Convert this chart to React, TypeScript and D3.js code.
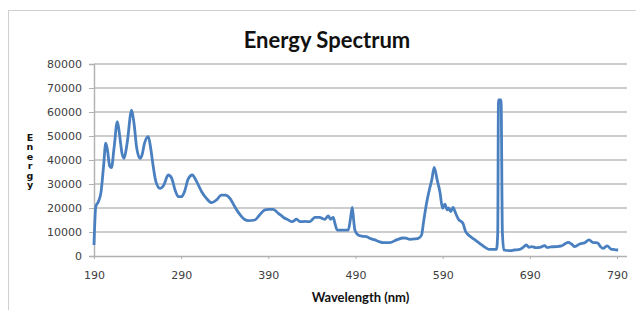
import React, { useEffect, useRef } from "react";
import * as d3 from "d3";

// wavelength (nm) and energy
const wavelengths = [
  190, 192, 195, 198, 201, 203.5, 205.5, 208, 210, 213, 216.8, 219.5, 222, 224.5, 228, 233.2, 236, 239,
  242.8, 245, 248, 252.3, 255, 258, 261, 265.7, 270, 275.2, 279, 283, 286.7, 290.5, 294, 298, 302.8, 307,
  313.5, 319, 325, 331, 336, 341, 346, 350, 355, 359.4, 363, 367, 374.6, 380, 386, 390, 395.6, 401.4, 405,
  409, 412, 416.7, 419, 422.4, 426.2, 432, 437.7, 440, 443.4, 449, 452, 455, 458.7, 461.4, 464.5, 466.5,
  469, 475, 481.7, 484, 486.3, 488, 489.3, 493, 497, 502.7, 507, 512.2, 517, 521.8, 529.4, 537, 544.7, 548,
  552.4, 558, 562, 565.8, 568, 571.5, 575, 577.5, 580.3, 583.7, 586.8, 589.9, 592.5, 595.2, 597, 599.2,
  601.8, 604.9, 608.7, 611, 613.3, 616.4, 619, 622, 626, 629.7, 634, 637.4, 643, 651.8, 653.2, 654, 657,
  658.5, 660.2, 667, 672, 678.5, 682, 684.3, 686, 689, 692, 697, 701.5, 707, 710, 714, 720.6, 726.3, 730,
  734, 737.8, 741.6, 747.3, 753, 758, 762.6, 766, 768.4, 771, 774, 778.6, 783.7, 787, 791.3,
];
const energy = [
  4600, 20500, 22600, 26500, 37500, 47000, 44000, 37500, 36800, 45000, 56000, 50000, 43000, 40700, 47000,
  60800, 55000, 45000, 40700, 42000, 47000, 49700, 45000, 37200, 31000, 28200, 29500, 33750, 32500, 27500,
  24700, 24700, 27000, 32000, 33750, 31500, 26800, 24000, 22200, 23500, 25400, 25400, 24000, 21500, 18500,
  16400, 15200, 14700, 15000, 17100, 19200, 19450, 19450, 17800, 16800, 15700, 15200, 14300, 14600, 15400,
  14300, 14400, 14300, 15000, 16100, 16100, 15600, 15300, 16700, 15300, 16100, 13500, 10800, 10800, 10800,
  15000, 20300, 14500, 10800, 8750, 8300, 8050, 7300, 6700, 6000, 5550, 5550, 6700, 7500, 7400, 6950, 7100,
  7350, 8750, 14000, 21950, 28000, 31650, 36950, 31650, 26800, 19850, 21650, 19200, 20000, 18500, 20300,
  17800, 15000, 14500, 13600, 10100, 9000, 8050, 7000, 6000, 4800, 3900, 2800, 2800, 10000, 65000, 65000,
  10000, 2500, 2200, 2500, 2800, 3500, 4200, 4600, 3600, 3900, 3500, 3600, 4300, 3500, 3800, 3900, 4200,
  5000, 5700, 5000, 3900, 5000, 5550, 6700, 5550, 5600, 5300, 3900, 3200, 4200, 2800, 2700, 2500,
];
const xTicks = [190, 290, 390, 490, 590, 690, 790];
const yTicks = [0, 10000, 20000, 30000, 40000, 50000, 60000, 70000, 80000];

const W = 636;
const H = 310;

const App = () => {
  const ref = useRef<SVGSVGElement>(null);

  useEffect(() => {
    const svg = d3.select(ref.current);
    svg.selectAll("*").remove();

    const x = d3.scaleLinear().domain([190, 790]).range([94, 617]);
    const y = d3.scaleLinear().domain([0, 80000]).range([256, 64]);
    const plotRight = 627;

    // chart frame
    svg
      .append("rect")
      .attr("x", 8.5)
      .attr("y", 10.5)
      .attr("width", 700)
      .attr("height", 400)
      .attr("fill", "#fff")
      .attr("stroke", "#d0d0d0");

    svg
      .append("text")
      .text("Energy Spectrum")
      .attr("x", 327)
      .attr("y", 48)
      .attr("text-anchor", "middle")
      .style("font-family", "Lato, sans-serif")
      .style("font-weight", "bold")
      .style("font-size", "22px")
      .style("fill", "#111");

    // gridlines
    svg
      .append("g")
      .selectAll("line")
      .data(yTicks.slice(1))
      .join("line")
      .attr("x1", x(190))
      .attr("x2", plotRight)
      .attr("y1", (d) => y(d))
      .attr("y2", (d) => y(d))
      .attr("stroke", "#bdbdbd")
      .attr("stroke-width", 1.6);

    // y axis
    const yAxis = d3
      .axisLeft(y)
      .tickValues(yTicks)
      .tickSize(5)
      .tickPadding(7)
      .tickFormat((d) => String(d));
    const gy = svg.append("g").attr("transform", `translate(${x(190)},0)`).call(yAxis);
    gy.select(".domain").attr("stroke", "#b0b0b0").attr("stroke-width", 1.4);
    gy.selectAll(".tick line").attr("stroke", "#b0b0b0");
    gy.selectAll(".tick text")
      .style("font-family", "DejaVu Sans, sans-serif")
      .style("font-size", "11px")
      .style("fill", "#404040");

    // x axis
    const xAxis = d3
      .axisBottom(x)
      .tickValues(xTicks)
      .tickSize(3)
      .tickPadding(12)
      .tickFormat((d) => String(d));
    const gx = svg.append("g").attr("transform", `translate(0,${y(0)})`).call(xAxis);
    gx.select(".domain").attr("d", `M${x(190)},0.5H${plotRight}`).attr("stroke", "#b0b0b0").attr("stroke-width", 1.4);
    gx.selectAll(".tick line").attr("stroke", "#b0b0b0");
    gx.selectAll(".tick text")
      .style("font-family", "DejaVu Sans, sans-serif")
      .style("font-size", "11px")
      .style("fill", "#404040");

    // axis titles
    svg
      .append("text")
      .text("Wavelength (nm)")
      .attr("x", (x(190) + plotRight) / 2)
      .attr("y", 302)
      .attr("text-anchor", "middle")
      .style("font-family", "Lato, sans-serif")
      .style("font-weight", "bold")
      .style("font-size", "13px")
      .style("fill", "#111");

    // stacked vertical "Energy" as a single text
    svg
      .append("text")
      .text("Energy")
      .attr("x", 30)
      .attr("y", 132)
      .style("writing-mode", "vertical-rl")
      .style("text-orientation", "upright")
      .style("letter-spacing", "-1.6px")
      .style("font-family", "DejaVu Sans, sans-serif")
      .style("font-weight", "bold")
      .style("font-size", "9.5px")
      .style("fill", "#111");

    // spectrum line
    const pts: [number, number][] = wavelengths.map((w, i) => [w, energy[i]]);
    const line = d3
      .line<[number, number]>()
      .x((d) => x(d[0]))
      .y((d) => y(d[1]))
      .curve(d3.curveMonotoneX);
    svg
      .append("path")
      .datum(pts)
      .attr("d", line)
      .attr("fill", "none")
      .attr("stroke", "#4a80c0")
      .attr("stroke-width", 2.8)
      .attr("stroke-linejoin", "round");
  }, []);

  return (
    <svg
      ref={ref}
      width={W}
      height={H}
      style={{ position: "absolute", left: 0, top: 0, background: "#fff" }}
    />
  );
};

export default App;
